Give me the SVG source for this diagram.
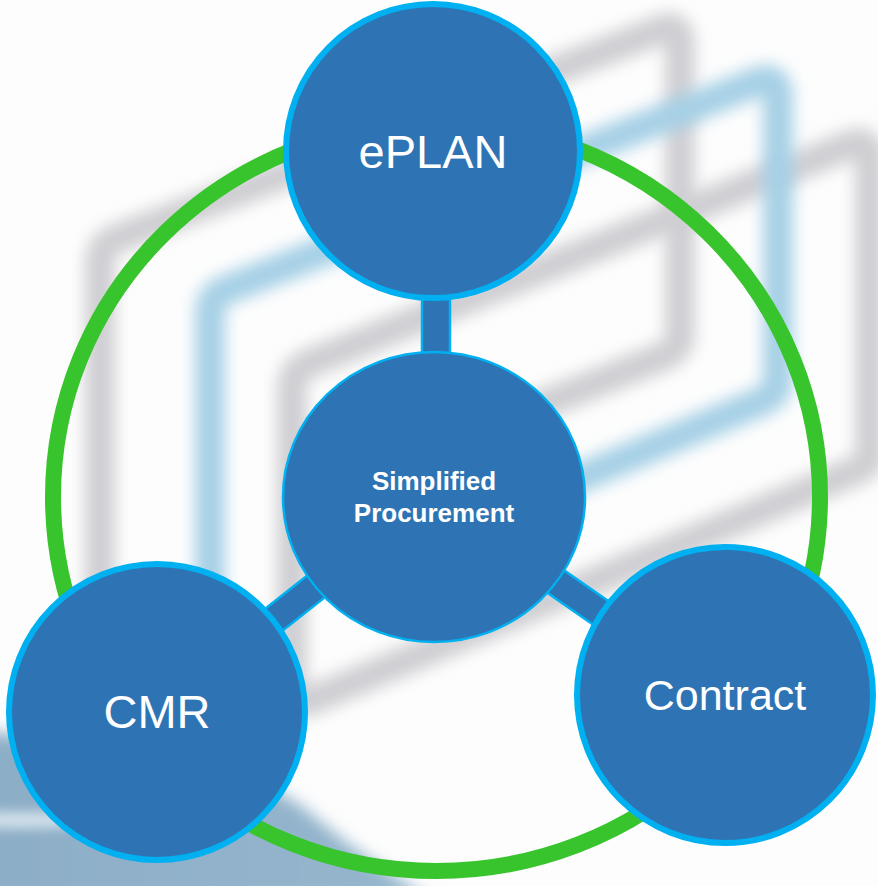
<svg xmlns="http://www.w3.org/2000/svg" width="878" height="886" viewBox="0 0 878 886">
  <defs>
    <filter id="blur" x="-20%" y="-20%" width="140%" height="140%">
      <feGaussianBlur stdDeviation="8"/>
    </filter>
    <filter id="blurPhoto" filterUnits="userSpaceOnUse" x="-100" y="600" width="600" height="400">
      <feGaussianBlur stdDeviation="8"/>
    </filter>
    <filter id="blur2" filterUnits="userSpaceOnUse" x="-100" y="760" width="300" height="120">
      <feGaussianBlur stdDeviation="6"/>
    </filter>
    <linearGradient id="photo" x1="0" y1="0" x2="1" y2="0">
      <stop offset="0" stop-color="#8CADC6"/>
      <stop offset="1" stop-color="#95B6CD"/>
    </linearGradient>
    <style>
      .wm-grey { fill: none; stroke: #CFCFD3; stroke-width: 30; stroke-linejoin: round; filter: url(#blur); }
      .wm-blue { fill: none; stroke: #A6D0E6; stroke-width: 30; stroke-linejoin: round; filter: url(#blur); }
      .node { fill: #2E74B5; stroke: #00B0F0; stroke-width: 6; }
      .hub { fill: #2E74B5; stroke: #00B0F0; stroke-width: 2.5; }
      .bar { fill: #2E74B5; stroke: #00B0F0; stroke-width: 2.5; }
      .lbl { fill: #FFFFFF; font-family: "Liberation Sans", Arial, sans-serif; text-anchor: middle; }
      .hubl { fill: #FFFFFF; font-family: "Liberation Sans", Arial, sans-serif; font-weight: bold; font-size: 26px; text-anchor: middle; }
    </style>
  </defs>

  <rect x="0" y="0" width="878" height="886" fill="#FDFDFD"/>

  <g id="watermark">
    <path class="wm-grey" d="M100,610 L100,262 Q100,245 118,238 L660,30 Q680,22 680,44 L680,335 Q680,350 662,357 L440,445"/>
    <path class="wm-grey" d="M292,690 L292,388 Q292,370 310,363 L850,145 Q870,137 870,160 L870,455 Q870,465 855,471 L312,700 Q292,708 292,690 Z"/>
    <path class="wm-blue" d="M210,640 L210,312 Q210,295 228,289 L757,82 Q778,74 778,97 L778,380 Q778,395 760,402 L480,520"/>
    <path d="M-40,730 L120,742 L240,768 L300,805 L350,845 L430,900 L-40,900 Z" fill="url(#photo)" filter="url(#blurPhoto)"/>
    <ellipse cx="20" cy="820" rx="80" ry="8" fill="#D6E3EC" filter="url(#blur2)"/>
  </g>

  <g id="ring">
    <ellipse cx="436.5" cy="497" rx="383.5" ry="374" fill="none" stroke="#37C42D" stroke-width="16"/>
  </g>

  <g id="connectors">
    <rect class="bar" x="422" y="250" width="28" height="150"/>
    <rect class="bar" x="0" y="-14" width="353" height="28" transform="translate(157,712) rotate(-38.3)"/>
    <rect class="bar" x="0" y="-14" width="354" height="28" transform="translate(434,497) rotate(34.8)"/>
  </g>

  <g id="node-eplan">
    <circle class="node" cx="433" cy="151" r="147"/>
    <text class="lbl" x="433" y="168" font-size="47">ePLAN</text>
  </g>

  <g id="node-hub">
    <ellipse class="hub" cx="434" cy="497" rx="151" ry="145"/>
    <text class="hubl" x="434" y="490">Simplified</text>
    <text class="hubl" x="434" y="522">Procurement</text>
  </g>

  <g id="node-cmr">
    <circle class="node" cx="157" cy="712" r="148"/>
    <text class="lbl" x="157" y="728" font-size="47">CMR</text>
  </g>

  <g id="node-contract">
    <circle class="node" cx="725" cy="695" r="148"/>
    <text class="lbl" x="725" y="710" font-size="43">Contract</text>
  </g>
</svg>
